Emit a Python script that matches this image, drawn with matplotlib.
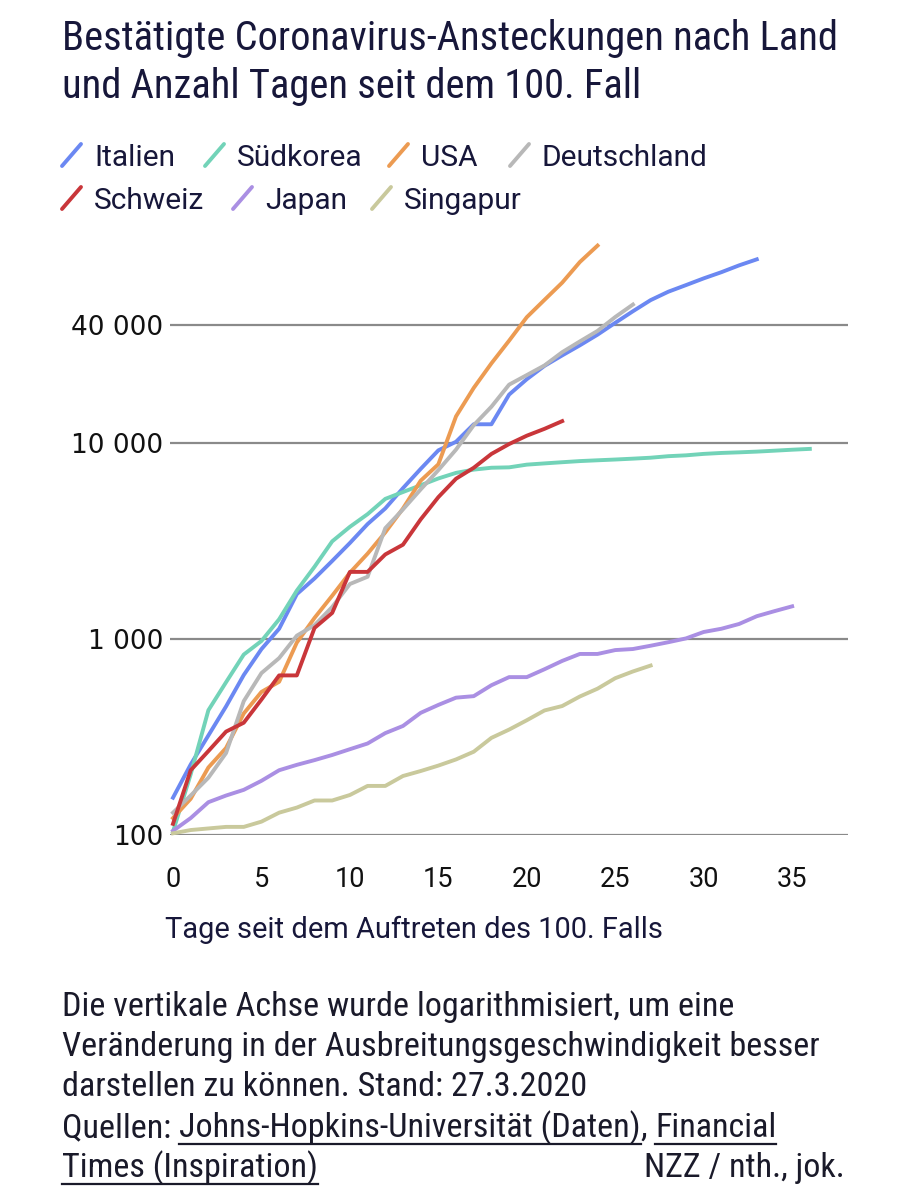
import matplotlib
matplotlib.use("Agg")
import matplotlib.pyplot as plt
from matplotlib.lines import Line2D
from matplotlib.ticker import NullLocator
from matplotlib import font_manager

# Confirmed cases per day since the 100th case (JHU data, as of 27.3.2020)
italien = [155, 229, 322, 453, 655, 888, 1128, 1694, 2036, 2502, 3089, 3858, 4636, 5883,
           7375, 9172, 10149, 12462, 12462, 17660, 21157, 24747, 27980, 31506, 35713,
           41035, 47021, 53578, 59138, 63927, 69176, 74386, 80589, 86498]
suedkorea = [104, 204, 433, 602, 833, 977, 1261, 1766, 2337, 3150, 3736, 4335, 5186, 5621,
             6088, 6593, 7041, 7314, 7478, 7513, 7755, 7869, 7979, 8086, 8162, 8236, 8320,
             8413, 8565, 8652, 8799, 8897, 8961, 9037, 9137, 9241, 9332]
usa = [122, 153, 221, 278, 417, 537, 605, 959, 1281, 1663, 2179, 2726, 3499, 4632, 6421,
       7786, 13680, 19101, 25493, 33276, 43847, 53740, 65778, 83836, 101657]
deutschland = [130, 159, 196, 262, 482, 670, 799, 1040, 1176, 1457, 1908, 2078, 3675, 4585,
               5795, 7272, 9257, 12327, 15320, 19848, 22213, 24873, 29056, 32986, 37323,
               43938, 50871]
schweiz = [114, 214, 268, 337, 374, 491, 652, 652, 1139, 1359, 2200, 2200, 2700, 3028, 4075,
           5294, 6575, 7474, 8795, 9877, 10897, 11811, 12928]
japan = [105, 122, 147, 159, 170, 189, 214, 228, 241, 256, 274, 293, 331, 360, 420, 461, 502,
         511, 581, 639, 639, 701, 773, 839, 839, 878, 889, 924, 963, 1007, 1086, 1128, 1193,
         1307, 1387, 1468]
singapur = [102, 106, 108, 110, 110, 117, 130, 138, 150, 150, 160, 178, 178, 200, 212, 226,
            243, 266, 313, 345, 385, 432, 455, 509, 558, 631, 683, 732]

countries = ["Italien", "Südkorea", "USA", "Deutschland", "Schweiz", "Japan", "Singapur"]
series = [italien, suedkorea, usa, deutschland, schweiz, japan, singapur]
colors = ["#6b88f2", "#72d3b8", "#ec9b52", "#b8b8b8", "#c9363a", "#aa8fe3", "#c9c99c"]

y_ticks = [100, 1000, 10000, 40000]
y_labels = ["100", "1 000", "10 000", "40 000"]
x_ticks = [0, 5, 10, 15, 20, 25, 30, 35]


def pick(*names):
    for n in names:
        try:
            font_manager.findfont(n, fallback_to_default=False)
            return n
        except ValueError:
            pass
    return "DejaVu Sans"


narrow = pick("Liberation Sans Narrow", "Roboto Condensed", "Roboto")
sans = pick("Roboto", "DejaVu Sans")

W, H = 907, 1200
navy = "#17173a"


def fx(x):
    return x / W


def fy(y):
    return 1 - y / H


fig = plt.figure(figsize=(W / 100, H / 100), dpi=100)
fig.patch.set_facecolor("white")

# Title
fig.text(fx(62), fy(50), "Bestätigte Coronavirus-Ansteckungen nach Land",
         fontsize=29.2, family=narrow, color=navy, va="baseline")
fig.text(fx(62), fy(98), "und Anzahl Tagen seit dem 100. Fall",
         fontsize=29.2, family=narrow, color=navy, va="baseline")

# Legend: coloured slash + name
legend_pos = [(62, 155), (205, 155), (389, 155), (510, 155),
              (62, 198), (233, 198), (372, 198)]
for name, col, (lx, ly) in zip(countries, colors, legend_pos):
    fig.add_artist(Line2D([fx(lx), fx(lx + 19)], [fy(ly + 11), fy(ly - 11)],
                          color=col, lw=2.8, solid_capstyle="round"))
    fig.text(fx(lx + 32), fy(ly + 11), name, fontsize=21.5, family=sans,
             color=navy, va="baseline")

# Chart
ax = fig.add_axes([fx(170), fy(835), (848 - 170) / W, (835 - 230) / H])
for vals, col in zip(series, colors):
    ax.plot(range(len(vals)), vals, color=col, lw=2.8, solid_joinstyle="round",
            clip_on=False, zorder=3)

ax.set_yscale("log")
ax.set_ylim(100, 10 ** (2 + 605 / 196))
ax.set_xlim(-3 / 17.69, 675 / 17.69)
for v in y_ticks:
    ax.axhline(v, color="#8a8a8a", lw=1.6, zorder=1)

ax.set_yticks(y_ticks)
ax.set_yticklabels(y_labels)
ax.yaxis.set_minor_locator(NullLocator())
ax.set_xticks(x_ticks)
for s in ax.spines.values():
    s.set_visible(False)
ax.tick_params(axis="y", length=0, pad=5, labelsize=19, labelcolor="#111111")
ax.tick_params(axis="x", length=0, pad=22, labelsize=19.5, labelcolor="#111111")
for lab in ax.get_yticklabels():
    lab.set_family("DejaVu Sans")
for lab in ax.get_xticklabels():
    lab.set_family(sans)

fig.text(fx(165), fy(938), "Tage seit dem Auftreten des 100. Falls",
         fontsize=20.9, family=sans, color=navy, va="baseline")

# Notes under the chart
note_kw = dict(fontsize=24.6, family=narrow, color="#1a1a2a", va="baseline")
fig.text(fx(62), fy(1016), "Die vertikale Achse wurde logarithmisiert, um eine", **note_kw)
fig.text(fx(62), fy(1056), "Veränderung in der Ausbreitungsgeschwindigkeit besser", **note_kw)
fig.text(fx(62), fy(1096), "darstellen zu können. Stand: 27.3.2020", **note_kw)

fig.canvas.draw()
renderer = fig.canvas.get_renderer()


def place(x, y, s):
    t = fig.text(fx(x), fy(y), s, **note_kw)
    bb = t.get_window_extent(renderer)
    return bb.x0, bb.x1


def underline(x0, x1, y):
    fig.add_artist(Line2D([fx(x0), fx(x1)], [fy(y), fy(y)], color="#1a1a2a", lw=1.6))


_, x = place(62, 1137, "Quellen: ")
a, b = place(x, 1137, "Johns-Hopkins-Universität (Daten)")
underline(a, b, 1144)
_, x = place(b, 1137, ", ")
a, b = place(x, 1137, "Financial")
underline(a, b, 1144)
a, b = place(62, 1177, "Times (Inspiration)")
underline(a, b, 1184)
fig.text(fx(845), fy(1177), "NZZ / nth., jok.", ha="right", **note_kw)

fig.savefig("out.png", dpi=100)
